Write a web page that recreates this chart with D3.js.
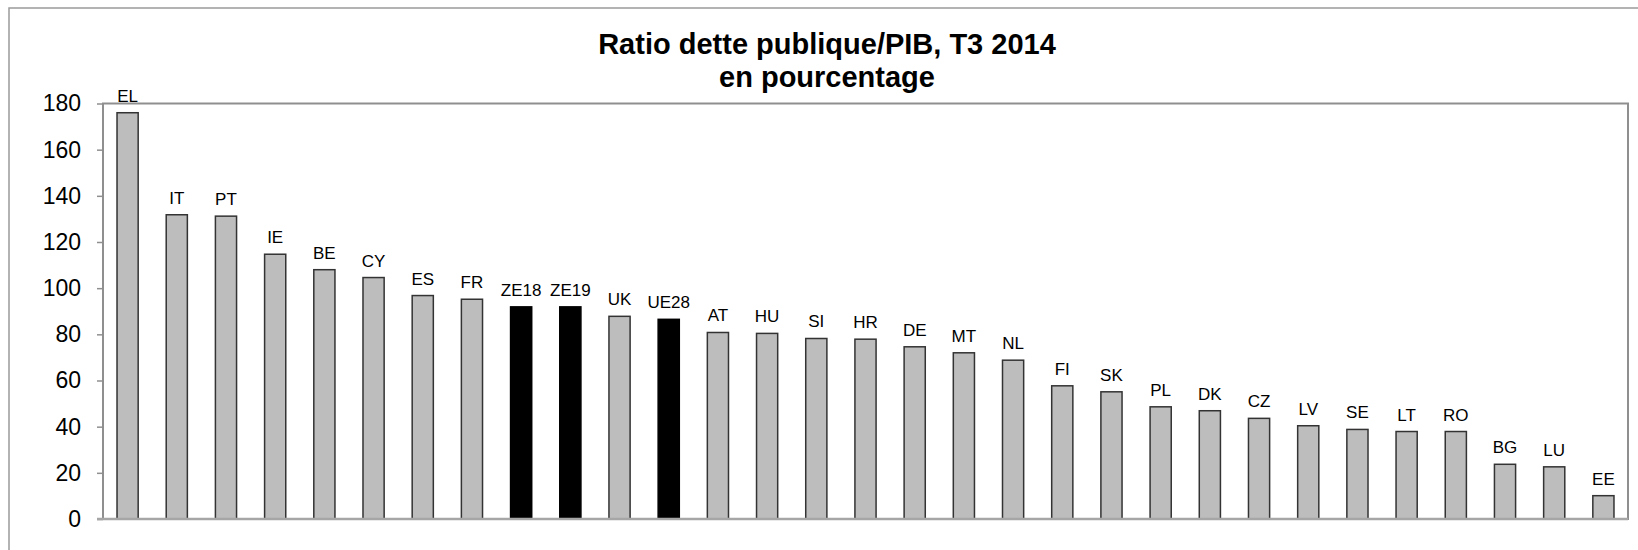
<!DOCTYPE html>
<html>
<head>
<meta charset="utf-8">
<script src="https://cdn.jsdelivr.net/npm/d3@7"></script>
<style>
  body { margin: 0; background: #fff; }
  svg { display: block; font-family: "Liberation Sans", Arial, sans-serif; }
</style>
</head>
<body>
<svg id="chart" width="1638" height="550"></svg>
<script>
// country codes, in order shown
var countries = ['EL', 'IT', 'PT', 'IE', 'BE', 'CY', 'ES', 'FR', 'ZE18', 'ZE19', 'UK', 'UE28',
    'AT', 'HU', 'SI', 'HR', 'DE', 'MT', 'NL', 'FI', 'SK', 'PL', 'DK', 'CZ', 'LV', 'SE',
    'LT', 'RO', 'BG', 'LU', 'EE'];
// debt ratio in % of GDP
var ratios = [176.0, 131.8, 131.2, 114.7, 108.0, 104.6, 96.8, 95.2, 91.9, 91.9, 87.8, 86.5,
    80.8, 80.4, 78.2, 77.9, 74.6, 72.0, 68.8, 57.7, 55.1, 48.6, 46.9, 43.6, 40.4, 38.8,
    37.9, 37.9, 23.7, 22.6, 10.1];
// aggregates drawn in black
var aggregates = ['ZE18', 'ZE19', 'UE28'];
var yTicks = [0, 20, 40, 60, 80, 100, 120, 140, 160, 180];
var titleLines = ['Ratio dette publique/PIB, T3 2014', 'en pourcentage'];

var svg = d3.select('#chart');

// plot area (window.top is taken, hence the prefixes)
var plotLeft = 103, plotRight = 1628, plotTop = 103.5, plotBottom = 519;

var x = d3.scaleBand()
    .domain(countries)
    .range([plotLeft, plotRight])
    .paddingInner(0.57)
    .paddingOuter(0.285);

var y = d3.scaleLinear()
    .domain([0, 180])
    .range([plotBottom, plotTop]);

// outer frame (runs off the right and bottom)
svg.append('rect')
    .attr('x', 9).attr('y', 8)
    .attr('width', 1660).attr('height', 570)
    .attr('fill', 'none')
    .attr('stroke', '#9a9a9a')
    .attr('stroke-width', 1.5);

// title
svg.append('g').selectAll('text')
    .data(titleLines)
    .enter()
    .append('text')
    .attr('x', 827)
    .attr('y', function (d, i) { return 54 + i * 33; })
    .attr('text-anchor', 'middle')
    .attr('font-size', '29px')
    .attr('font-weight', 'bold')
    .attr('fill', '#000')
    .text(function (d) { return d; });

// plot border
svg.append('rect')
    .attr('x', plotLeft).attr('y', plotTop)
    .attr('width', plotRight - plotLeft).attr('height', plotBottom - plotTop)
    .attr('fill', 'none')
    .attr('stroke', '#8f8f8f')
    .attr('stroke-width', 2);

// y axis
var yAxis = svg.append('g')
    .attr('transform', 'translate(' + plotLeft + ',0)')
    .call(d3.axisLeft(y).tickValues(yTicks).tickSize(6).tickPadding(16));

yAxis.select('.domain').remove();
yAxis.selectAll('.tick line').attr('stroke', '#8f8f8f').attr('stroke-width', 1.5);
yAxis.selectAll('.tick text')
    .attr('font-size', '23px')
    .attr('font-family', '"Liberation Sans", Arial, sans-serif')
    .attr('fill', '#000');

var data = countries.map(function (c, i) { return { code: c, value: ratios[i] }; });

// bars
svg.append('g').selectAll('rect')
    .data(data)
    .enter()
    .append('rect')
    .attr('x', function (d) { return x(d.code); })
    .attr('y', function (d) { return y(d.value); })
    .attr('width', x.bandwidth())
    .attr('height', function (d) { return y(0) - y(d.value); })
    .attr('fill', function (d) { return aggregates.indexOf(d.code) >= 0 ? '#000' : '#bdbdbd'; })
    .attr('stroke', function (d) { return aggregates.indexOf(d.code) >= 0 ? '#000' : '#333'; })
    .attr('stroke-width', 1.5);

// bottom axis line on top of bars
svg.append('line')
    .attr('x1', plotLeft - 6).attr('x2', plotRight)
    .attr('y1', plotBottom).attr('y2', plotBottom)
    .attr('stroke', '#a6a6a6')
    .attr('stroke-width', 2.5);

// labels over the bars
svg.append('g').selectAll('text')
    .data(data)
    .enter()
    .append('text')
    .attr('x', function (d) { return x(d.code) + x.bandwidth() / 2; })
    .attr('y', function (d) { return y(d.value) - 11; })
    .attr('text-anchor', 'middle')
    .attr('font-size', '17px')
    .attr('fill', '#000')
    .text(function (d) { return d.code; });
</script>
</body>
</html>
